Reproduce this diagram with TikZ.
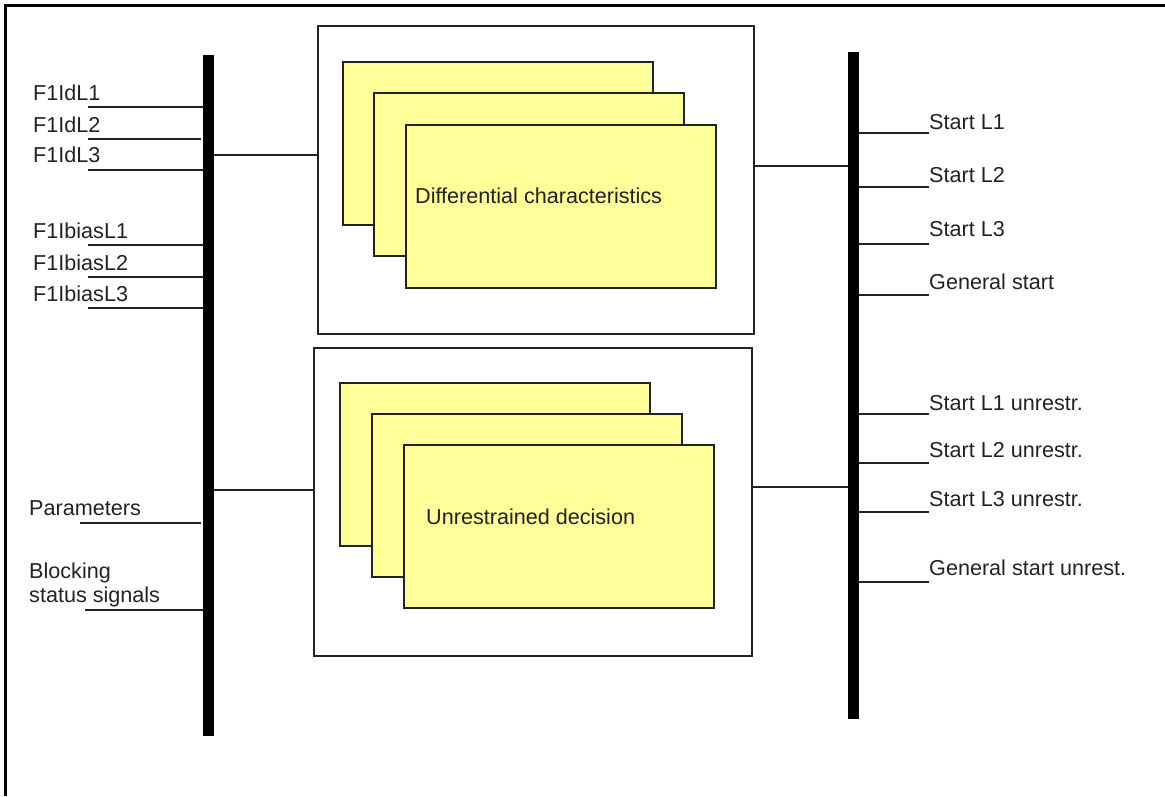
\documentclass[tikz,border=0pt]{standalone}
\usepackage{fontspec}
\setmainfont{Liberation Sans}
\begin{document}
\begin{tikzpicture}[x=1pt,y=-1pt,
  txt/.style={anchor=base west,inner sep=0pt,text=textc,font=\fontsize{21.6}{24}\selectfont},
  wire/.style={draw=linec,line width=2pt},
  outerbox/.style={draw=linec,line width=2pt,fill=white,anchor=north west,inner sep=0pt,minimum width=436pt,minimum height=308pt},
  ybox/.style={draw=linec,line width=2pt,fill=yelfill,anchor=north west,inner sep=0pt,minimum width=310pt,minimum height=163pt},
  bus/.style={fill=black,draw=none,anchor=north west,inner sep=0pt,minimum width=11pt}]
\definecolor{linec}{HTML}{222222}
\definecolor{textc}{HTML}{222222}
\definecolor{yelfill}{HTML}{FFFF99}
\useasboundingbox (0,0) rectangle (1165,796);
\draw[line width=2.5pt,draw=black] (5.5,796) -- (5.5,5.5) -- (1165,5.5);
% buses
\node[bus,minimum height=681pt] (busL) at (203,55) {};
\node[bus,minimum height=667pt] (busR) at (848,52) {};
% top block
\node[outerbox] (outT) at (317,25) {};
\node[ybox] (t1) at (342,61) {};
\node[ybox] (t2) at (373,92) {};
\node[ybox] (t3) at (405,124) {};
\node[txt] (tlab) at (415,203) {Differential characteristics};
% bottom block
\node[outerbox,minimum width=438pt] (outB) at (313,347) {};
\node[ybox] (b1) at (339,382) {};
\node[ybox] (b2) at (371,413) {};
\node[ybox] (b3) at (403,444) {};
\node[txt] (blab) at (426,524) {Unrestrained decision};
% bus to blocks
\coordinate (cTL) at (317,155);
\coordinate (cBL) at (313,490);
\coordinate (cTR) at (753,166);
\coordinate (cBR) at (751,487);
\draw[wire] (busL.east |- cTL) -- (cTL);
\draw[wire] (busL.east |- cBL) -- (cBL);
\draw[wire] (cTR) -- (busR.west |- cTR);
\draw[wire] (cBR) -- (busR.west |- cBR);
% left inputs
\node[txt] (l1) at (33,100) {F1IdL1};
\node[txt] (l2) at (33,132) {F1IdL2};
\node[txt] (l3) at (33,162) {F1IdL3};
\node[txt] (l4) at (33,238) {F1IbiasL1};
\node[txt] (l5) at (33,270) {F1IbiasL2};
\node[txt] (l6) at (33,301) {F1IbiasL3};
\node[txt] (l7) at (29,515) {Parameters};
\node[txt] (l8a) at (29,578) {Blocking};
\node[txt] (l8) at (29,602) {status signals};
\coordinate (i1) at (88,107);
\coordinate (i2) at (88,139);
\coordinate (i3) at (88,170);
\coordinate (i4) at (88,245);
\coordinate (i5) at (88,277);
\coordinate (i6) at (88,308);
\coordinate (i7) at (80,523);
\coordinate (i8) at (85,610);
\foreach \c in {i1,i3,i4,i5,i6,i8} \draw[wire] (\c) -- (\c -| busL.west);
\foreach \c in {i2,i7} \draw[wire] (\c) -- ([xshift=-2pt]\c -| busL.west);
% right outputs
\node[txt] (r1) at (929,129) {Start L1};
\node[txt] (r2) at (929,182) {Start L2};
\node[txt] (r3) at (929,236) {Start L3};
\node[txt] (r4) at (929,289) {General start};
\node[txt] (r5) at (929,410) {Start L1 unrestr.};
\node[txt] (r6) at (929,457) {Start L2 unrestr.};
\node[txt] (r7) at (929,506) {Start L3 unrestr.};
\node[txt] (r8) at (929,575) {General start unrest.};
\coordinate (o1) at (929,133);
\coordinate (o2) at (929,187);
\coordinate (o3) at (929,244);
\coordinate (o4) at (929,295);
\coordinate (o5) at (929,414);
\coordinate (o6) at (929,463);
\coordinate (o7) at (929,512);
\coordinate (o8) at (929,582);
\foreach \c in {o1,o2,o3,o4,o5,o6,o7,o8} \draw[wire] (busR.east |- \c) -- (\c);
\end{tikzpicture}
\end{document}
